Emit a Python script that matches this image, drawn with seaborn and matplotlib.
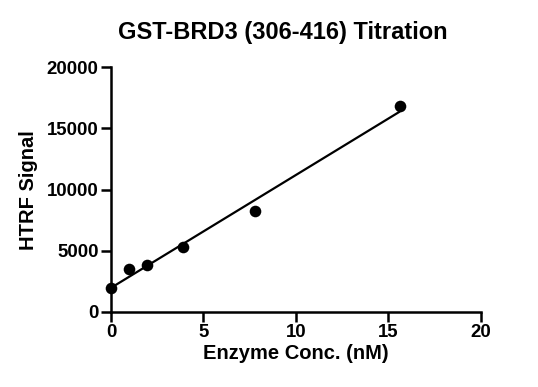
import numpy as np
import pandas as pd
import seaborn as sns
import matplotlib
matplotlib.use("Agg")
import matplotlib.pyplot as plt

# data
conc_nM = [0.0, 0.98, 1.95, 3.9, 7.8, 15.6]
htrf_signal = [1990, 3500, 3860, 5290, 8250, 16850]
x_ticks = [0, 5, 10, 15, 20]
y_ticks = [0, 5000, 10000, 15000, 20000]

df = pd.DataFrame({"conc": conc_nM, "signal": htrf_signal})

sns.set_theme(style="ticks")
plt.rcParams["font.family"] = ["Liberation Sans", "DejaVu Sans"]
plt.rcParams["font.weight"] = "bold"

fig = plt.figure(figsize=(5.38, 3.87), dpi=100)
ax = fig.add_axes([0.2063, 0.1938, 0.6877, 0.6323])

# linear fit line over the data range
slope, intercept = np.polyfit(df["conc"], df["signal"], 1)
fit = pd.DataFrame({"conc": [df["conc"].min(), df["conc"].max()]})
fit["signal"] = intercept + slope * fit["conc"]
sns.lineplot(data=fit, x="conc", y="signal", color="black", linewidth=1.6, ax=ax)

sns.scatterplot(data=df, x="conc", y="signal", color="black", s=70,
                edgecolor="black", linewidth=0, ax=ax, zorder=3, clip_on=False)

ax.set_xlim(0, 20)
ax.set_ylim(0, 20000)
ax.set_xticks(x_ticks)
ax.set_yticks(y_ticks)
ax.tick_params(axis="both", direction="out", length=7, width=1.8, color="black",
               labelsize=13.4, labelcolor="black", pad=2)
for lab in ax.get_xticklabels() + ax.get_yticklabels():
    lab.set_fontweight("bold")
for side in ["top", "right"]:
    ax.spines[side].set_visible(False)
for side in ["left", "bottom"]:
    ax.spines[side].set_linewidth(1.8)
    ax.spines[side].set_color("black")

ax.set_xlabel("Enzyme Conc. (nM)", fontsize=14.5, fontweight="bold", color="black", labelpad=2)
ax.set_ylabel("HTRF Signal", fontsize=14.5, fontweight="bold", color="black", labelpad=6)
fig.text(283 / 538, 1 - 32 / 387, "GST-BRD3 (306-416) Titration", ha="center", va="center",
         fontsize=17, fontweight="bold", color="black")

plt.savefig("out.png", dpi=100)
